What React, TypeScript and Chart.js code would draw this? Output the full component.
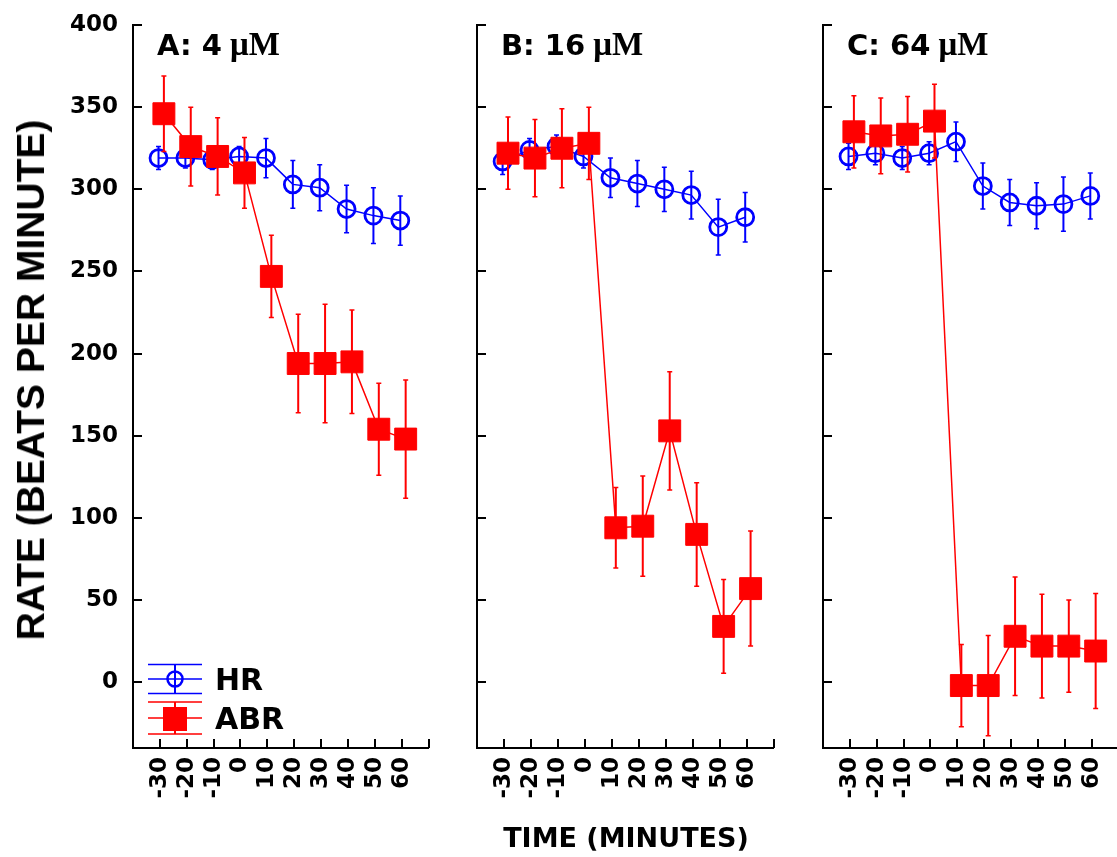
import { useEffect, useRef } from 'react';
import { Chart, registerables } from 'chart.js';

Chart.register(...registerables);

// ---- data -------------------------------------------------------------
const timePoints = [-30, -20, -10, 0, 10, 20, 30, 40, 50, 60];
const xTickLabels = ['-30', '-20', '-10', '0', '10', '20', '30', '40', '50', '60'];
const yTickValues = [0, 50, 100, 150, 200, 250, 300, 350, 400];

const panelLetters = ['A', 'B', 'C'];
const concentrations = [4, 16, 64];
const concentrationUnit = 'μM';
const seriesLabels = ['HR', 'ABR'];

// 4 µM
const hrA = [319, 319, 318, 320, 319, 303, 301, 288, 284, 281];
const hrErrA = [7, 6, 6, 6, 12, 14.5, 14, 14.5, 17, 15];
const abrA = [346, 326, 320, 310, 247, 194, 194, 195, 154, 148];
const abrErrA = [23, 24, 23.5, 21.5, 25, 30, 36, 31.5, 28, 36];

// 16 µM
const hrB = [317, 324, 326, 320, 307, 303.5, 300, 296.5, 277, 283];
const hrErrB = [8, 7, 7, 7, 12, 14, 13.5, 14.5, 17, 15];
const abrB = [322, 319, 325, 328, 94, 95, 153, 90, 34, 57];
const abrErrB = [22, 23.5, 24, 22, 24.5, 30.5, 36, 31.5, 28.5, 35];

// 64 µM
const hrC = [320, 322, 319, 322, 329, 302, 292, 290, 291, 296];
const hrErrC = [8, 7, 7, 7, 12, 14, 14, 14, 16.5, 14];
const abrC = [335, 332.5, 333.5, 341.5, -2, -2, 28, 22, 22, 19];
const abrErrC = [22, 23, 23, 22.5, 25, 30.5, 36, 31.5, 28, 35];

// ---- styling ----------------------------------------------------------
const BLUE = '#0000ff';
const RED = '#ff0000';
const X_MIN = -40;
const X_MAX = 70;
const Y_MIN = -40;
const Y_MAX = 400;
const HR_SHIFT = -0.5; // small stagger so the two series do not hide each other
const ABR_SHIFT = 1.5;
const TICK_LEN = 9;
const CAP_HALF = 2.5;
const H = 857;
const TICK_FONT = { family: 'DejaVu Sans', size: 23, weight: 'bold' as const };

// vertical error bars, drawn just beneath each dataset's own markers
const errorBars = {
  id: 'errorBars',
  beforeDatasetDraw(chart: any, args: any) {
    const ds = chart.data.datasets[args.index];
    const errs: number[] | undefined = ds.errors;
    if (!errs) return;
    const y = chart.scales.y;
    const ctx = chart.ctx;
    const ends = args.meta.data.map((pt: any, i: number) => {
      const v = ds.data[i].y;
      const e = errs[i];
      return { px: pt.x, top: y.getPixelForValue(v + e), bot: y.getPixelForValue(v - e) };
    });
    ctx.save();
    ctx.strokeStyle = ds.borderColor;
    ctx.lineWidth = 2;
    ctx.beginPath();
    ends.forEach(({ px, top, bot }: any) => {
      ctx.moveTo(px, top);
      ctx.lineTo(px, bot);
    });
    ctx.stroke();
    ctx.lineWidth = 1.5;
    ctx.beginPath();
    ends.forEach(({ px, top, bot }: any) => {
      ctx.moveTo(px - CAP_HALF, top);
      ctx.lineTo(px + CAP_HALF, top);
      ctx.moveTo(px - CAP_HALF, bot);
      ctx.lineTo(px + CAP_HALF, bot);
    });
    ctx.stroke();
    ctx.restore();
  },
};

// tick marks pointing into the plot area
const innerTicks = {
  id: 'innerTicks',
  afterDraw(chart: any) {
    const { ctx, chartArea, scales } = chart;
    const { x, y } = scales;
    ctx.save();
    ctx.strokeStyle = '#000';
    ctx.lineWidth = 2;
    ctx.beginPath();
    const xs = x.ticks.map((t: any) => x.getPixelForValue(t.value));
    xs.push(chartArea.right);
    xs.forEach((px: number) => {
      const p = Math.round(px);
      ctx.moveTo(p, chartArea.bottom);
      ctx.lineTo(p, chartArea.bottom - TICK_LEN);
    });
    y.ticks.forEach((t: any) => {
      const p = Math.round(y.getPixelForValue(t.value));
      ctx.moveTo(chartArea.left, p);
      ctx.lineTo(chartArea.left + TICK_LEN, p);
    });
    ctx.stroke();
    ctx.restore();
  },
};

// panel heading, e.g. "A: 4 μM"
const panelHeading = {
  id: 'panelHeading',
  afterDraw(chart: any, _args: any, opts: any) {
    const { ctx, chartArea } = chart;
    const prefix = `${opts.letter}: ${opts.value} `;
    ctx.save();
    ctx.fillStyle = '#000';
    ctx.textBaseline = 'alphabetic';
    ctx.textAlign = 'left';
    ctx.font = 'bold 29px "DejaVu Sans"';
    const x0 = chartArea.left + 24;
    const base = chartArea.top + 30;
    ctx.fillText(prefix, x0, base);
    const w = ctx.measureText(prefix).width;
    ctx.font = 'bold 33px "Liberation Serif"';
    ctx.fillText(opts.unit, x0 + w - 2, base);
    ctx.restore();
  },
};

// legend with error-bar style symbols in the lower left corner
const seriesKey = {
  id: 'seriesKey',
  afterDraw(chart: any, _args: any, opts: any) {
    if (!opts.show) return;
    const { ctx, chartArea } = chart;
    const datasets = [...chart.data.datasets].reverse();
    const rows = [
      { cy: chartArea.bottom - 69, gap: 14.5 },
      { cy: chartArea.bottom - 30, gap: 16 },
    ];
    const x1 = chartArea.left + 15;
    const x2 = chartArea.left + 69;
    const cx = (x1 + x2) / 2;
    ctx.save();
    datasets.forEach((ds: any, i: number) => {
      const { cy, gap } = rows[i];
      ctx.strokeStyle = ds.borderColor;
      ctx.lineWidth = 1.5;
      ctx.beginPath();
      [cy - gap, cy, cy + gap].forEach((yy) => {
        ctx.moveTo(x1, yy);
        ctx.lineTo(x2, yy);
      });
      ctx.stroke();
      ctx.lineWidth = 2;
      ctx.beginPath();
      ctx.moveTo(cx, cy - gap);
      ctx.lineTo(cx, cy + gap);
      ctx.stroke();
      if (ds.pointStyle === 'rect') {
        ctx.fillStyle = ds.pointBackgroundColor;
        ctx.fillRect(cx - 12, cy - 11, 24, 24);
      } else {
        ctx.lineWidth = 2.5;
        ctx.beginPath();
        ctx.arc(cx, cy, 7.5, 0, Math.PI * 2);
        ctx.stroke();
      }
      ctx.fillStyle = '#000';
      ctx.font = 'bold 30px "DejaVu Sans"';
      ctx.textBaseline = 'alphabetic';
      ctx.textAlign = 'left';
      ctx.fillText(ds.label, chartArea.left + 82, cy + 11);
    });
    ctx.restore();
  },
};

type PanelProps = {
  index: number;
  left: number;
  width: number;
  yAxisWidth: number;
  padRight: number;
  hr: number[];
  hrErr: number[];
  abr: number[];
  abrErr: number[];
  showYLabels: boolean;
  showKey: boolean;
};

function Panel(p: PanelProps) {
  const ref = useRef<HTMLCanvasElement>(null);

  useEffect(() => {
    const canvas = ref.current;
    if (!canvas) return;
    const chart = new Chart(canvas, {
      type: 'line',
      data: {
        datasets: [
          {
            label: seriesLabels[1],
            data: timePoints.map((t, i) => ({ x: t + ABR_SHIFT, y: p.abr[i] })),
            errors: p.abrErr,
            borderColor: RED,
            backgroundColor: RED,
            borderWidth: 1.5,
            pointStyle: 'rect',
            pointRadius: 15.5,
            pointBorderWidth: 1,
            pointBackgroundColor: RED,
            pointBorderColor: RED,
            tension: 0,
          } as any,
          {
            label: seriesLabels[0],
            data: timePoints.map((t, i) => ({ x: t + HR_SHIFT, y: p.hr[i] })),
            errors: p.hrErr,
            borderColor: BLUE,
            backgroundColor: BLUE,
            borderWidth: 1.5,
            pointStyle: 'circle',
            pointRadius: 8.5,
            pointBorderWidth: 2.8,
            pointBackgroundColor: 'rgba(0,0,0,0)',
            pointBorderColor: BLUE,
            tension: 0,
          } as any,
        ],
      },
      options: {
        responsive: false,
        animation: false,
        events: [],
        layout: { padding: { left: 0, right: p.padRight, top: 25, bottom: 0 } },
        plugins: {
          legend: { display: false },
          tooltip: { enabled: false },
          title: { display: false },
          panelHeading: {
            letter: panelLetters[p.index],
            value: concentrations[p.index],
            unit: concentrationUnit,
          },
          seriesKey: { show: p.showKey },
        } as any,
        scales: {
          x: {
            type: 'linear',
            min: X_MIN,
            max: X_MAX,
            grid: { display: false, drawTicks: false },
            border: { display: true, color: '#000', width: 2 },
            afterBuildTicks: (scale: any) => {
              scale.ticks = timePoints.map((v) => ({ value: v }));
            },
            afterFit: (scale: any) => {
              scale.height = 109;
              scale.paddingLeft = 0;
              scale.paddingRight = 0;
            },
            ticks: {
              autoSkip: false,
              minRotation: 90,
              maxRotation: 90,
              padding: 9,
              color: '#000',
              font: TICK_FONT,
              callback: (_v: any, i: number) => xTickLabels[i],
            },
          },
          y: {
            type: 'linear',
            min: Y_MIN,
            max: Y_MAX,
            grid: { display: false, drawTicks: false },
            border: { display: true, color: '#000', width: 2 },
            afterBuildTicks: (scale: any) => {
              scale.ticks = yTickValues.map((v) => ({ value: v }));
            },
            afterFit: (scale: any) => {
              scale.width = p.yAxisWidth;
              scale.paddingTop = 0;
              scale.paddingBottom = 0;
            },
            ticks: {
              display: p.showYLabels,
              padding: 15,
              color: '#000',
              font: TICK_FONT,
              callback: (v: any) => String(v),
            },
          },
        },
      } as any,
      plugins: [errorBars, innerTicks, panelHeading, seriesKey],
    });
    return () => chart.destroy();
  }, []);

  return (
    <canvas
      ref={ref}
      width={p.width}
      height={H}
      style={{ position: 'absolute', left: p.left, top: 0, width: p.width, height: H }}
    />
  );
}

export default function App() {
  return (
    <div
      style={{
        position: 'fixed',
        left: 0,
        top: 0,
        width: 1117,
        height: H,
        overflow: 'hidden',
        background: '#fff',
      }}
    >
      <Panel index={0} left={0} width={445} yAxisWidth={133} padRight={14}
        hr={hrA} hrErr={hrErrA} abr={abrA} abrErr={abrErrA} showYLabels showKey />
      <Panel index={1} left={445} width={345} yAxisWidth={32} padRight={15}
        hr={hrB} hrErr={hrErrB} abr={abrB} abrErr={abrErrB} showYLabels={false} showKey={false} />
      <Panel index={2} left={790} width={345} yAxisWidth={33} padRight={14}
        hr={hrC} hrErr={hrErrC} abr={abrC} abrErr={abrErrC} showYLabels={false} showKey={false} />
      <div
        style={{
          position: 'absolute',
          left: 31,
          top: 380,
          transform: 'translate(-50%, -50%) rotate(-90deg)',
          whiteSpace: 'nowrap',
          font: 'bold 39px "Liberation Sans", Arial, sans-serif',
          color: '#000',
        }}
      >
        RATE (BEATS PER MINUTE)
      </div>
      <div
        style={{
          position: 'absolute',
          left: 626,
          top: 837,
          transform: 'translate(-50%, -50%)',
          whiteSpace: 'nowrap',
          font: 'bold 27px "DejaVu Sans", sans-serif',
          color: '#000',
        }}
      >
        TIME (MINUTES)
      </div>
    </div>
  );
}
